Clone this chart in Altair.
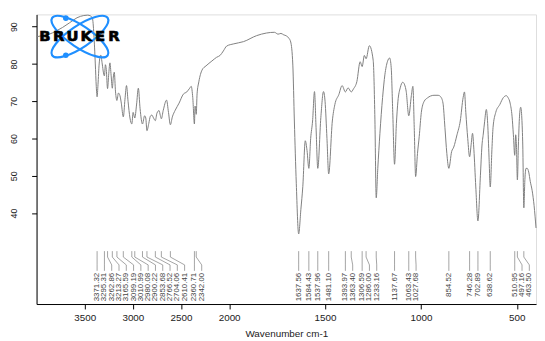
import altair as alt
import pandas as pd

# ---------------- data ----------------
wavenumber = [
    4000, 3940, 3867, 3800, 3730, 3660, 3580, 3510, 3470, 3440, 3420, 3405, 3390, 3380,
    3371.32, 3362, 3350, 3334, 3318, 3305, 3295.31, 3285, 3276, 3262.86, 3250, 3238, 3226,
    3213.27, 3203, 3193, 3180, 3165.59, 3150, 3134, 3120, 3099.19, 3082, 3066, 3050, 3030,
    3010.99, 2997, 2980.08, 2962, 2943, 2925, 2900.22, 2878, 2866, 2853.68, 2835, 2818, 2803,
    2785, 2766.52, 2750, 2728, 2715, 2704.06, 2685, 2650, 2630, 2610.41, 2590, 2560, 2520,
    2476, 2440, 2410, 2394, 2378, 2360.71, 2354, 2348, 2342.00, 2333, 2315, 2281, 2240, 2179,
    2130, 2094, 2060, 2026, 1976, 1925, 1857, 1806, 1764, 1745, 1730, 1715, 1704, 1690, 1679,
    1668, 1660, 1650, 1637.56, 1626, 1616, 1603, 1594, 1584.43, 1575, 1565, 1555, 1547,
    1537.96, 1522, 1508, 1500, 1490, 1481.10, 1462, 1449, 1428, 1411, 1393.97, 1380, 1363.40,
    1352, 1334, 1317, 1306.59, 1295, 1286.00, 1269, 1249, 1240, 1233.16, 1225, 1214, 1200,
    1188, 1175, 1163, 1155, 1147, 1137.67, 1128, 1120, 1108, 1095, 1085, 1077, 1063.43, 1050,
    1042, 1035, 1027.68, 1018, 1009, 998, 983, 966, 950, 932, 910, 897, 885, 875, 865, 854.52,
    840, 829, 812, 795, 780, 773, 766, 756, 746.28, 738, 731, 724, 714, 702.89, 690, 682, 675,
    668, 659, 652, 645, 638.62, 630, 624, 610, 589, 570, 555, 546, 535, 525, 518, 510.95, 506,
    502, 497.16, 492, 486, 480, 474, 469, 463.50, 458, 452, 446, 438, 430, 420, 410, 400,
]
transmittance = [
    87.3, 87.6, 88.0, 88.8, 89.8, 91.0, 92.4, 93.0, 93.1, 92.9, 92.3, 88.0, 80.0, 74.0,
    71.2, 74.5, 80.0, 82.4, 80.0, 77.6, 76.8, 79.8, 78.5, 73.4, 77.5, 80.3, 77.0,
    73.5, 76.5, 77.8, 72.5, 70.2, 72.2, 71.5, 69.5, 65.8, 70.5, 74.2, 70.0, 65.5,
    63.9, 67.0, 65.5, 69.0, 73.5, 68.0, 63.9, 66.1, 65.5, 62.1, 64.0, 66.0, 66.3,
    65.5, 64.8, 66.8, 67.5, 66.2, 65.3, 67.5, 70.3, 67.0, 63.7, 65.8, 67.6, 69.5,
    71.9, 72.5, 73.5, 74.0, 71.0, 63.9, 68.7, 68.0, 66.5, 72.0, 75.2, 78.4, 79.5, 80.8,
    81.8, 82.3, 83.5, 84.8, 85.4, 86.0, 87.6, 88.3, 88.5, 88.0, 88.2, 87.8, 87.6, 87.0, 85.9,
    79.7, 64.7, 48.0, 34.4, 41.0, 47.1, 59.4, 56.8, 52.0, 60.0, 64.7, 72.6, 63.0,
    52.0, 65.6, 72.6, 70.0, 60.0, 50.5, 64.7, 69.1, 71.8, 74.2, 72.5, 73.6, 72.5,
    73.3, 75.3, 80.6, 79.3, 82.3, 81.4, 84.9, 81.0, 65.0, 44.1, 52.0, 61.3, 71.0,
    77.1, 80.6, 81.6, 79.0, 67.0, 53.1, 64.0, 70.0, 73.6, 75.1, 74.4, 72.7, 66.1, 71.5,
    74.0, 63.0, 49.8, 56.0, 60.5, 67.0, 70.0, 70.9, 71.4, 71.6, 71.6, 71.2, 69.5, 63.0, 56.0, 52.0,
    56.5, 57.7, 61.0, 64.7, 71.0, 72.5, 67.0, 60.0, 55.1, 58.5, 61.4, 57.0, 47.0, 37.9, 50.0, 58.0, 61.2,
    64.5, 67.8, 64.0, 55.0, 47.0, 57.0, 63.0, 67.0, 69.1, 71.0, 71.5, 71.0, 69.5, 66.0, 61.0, 55.5, 61.0,
    58.0, 48.9, 58.0, 66.0, 68.4, 65.5, 58.0, 41.4, 49.0, 52.0, 52.0, 51.0, 48.5, 46.0, 42.0, 36.0,
]
peaks = [
    3371.32, 3295.31, 3262.86, 3213.27, 3165.59, 3099.19, 3010.99, 2980.08, 2900.22,
    2853.68, 2766.52, 2704.06, 2610.41, 2360.71, 2342.00, 1637.56, 1584.43, 1537.96,
    1481.10, 1393.97, 1363.40, 1306.59, 1286.00, 1233.16, 1137.67, 1063.43, 1027.68,
    854.52, 746.28, 702.89, 638.62, 510.95, 497.16, 463.50,
]
x_ticks = [3500, 3000, 2500, 2000, 1500, 1000, 500]
y_ticks = [40, 50, 60, 70, 80, 90]
logo_letters = ["B", "R", "U", "K", "E", "R"]

# ---------------- layout ----------------
W, H = 507, 294
BREAK = 195.5                      # pixel position of 2000 cm-1 (expanded scale below)
X_DOMAIN = [4000, 2000, 400]
X_RANGE = [0, BREAK, W]
Y_DOMAIN = [15.6, 93.3]


def to_px(w):
    if w >= 2000:
        return (4000 - w) / 2000 * BREAK
    return BREAK + (2000 - w) / 1600 * (W - BREAK)


def from_px(p):
    if p <= BREAK:
        return 4000 - p / BREAK * 2000
    return 2000 - (p - BREAK) / (W - BREAK) * 1600


def push_right(ideal, gap):
    out = []
    for p in ideal:
        out.append(p if not out else max(p, out[-1] + gap))
    return out


label_px = push_right([to_px(p) for p in peaks], 7.4)
label_wn = [from_px(p) for p in label_px]

spec_df = pd.DataFrame({"wn": wavenumber, "T": transmittance, "i": range(len(wavenumber))})
peak_df = pd.DataFrame({"wn": peaks, "lab": label_wn, "txt": [f"{p:.2f}" for p in peaks]})
one = pd.DataFrame({"k": [0]})
letters_df = pd.DataFrame({"ch": logo_letters, "j": range(len(logo_letters))})

xscale = alt.Scale(domain=X_DOMAIN, range=X_RANGE, nice=False, zero=False)
yscale = alt.Scale(domain=Y_DOMAIN, nice=False, zero=False)

FONT = "Liberation Sans"

line = alt.Chart(spec_df).mark_line(
    color="#7f7f7f", strokeWidth=1, interpolate="monotone"
).encode(
    x=alt.X("wn:Q", scale=xscale, axis=alt.Axis(
        values=x_ticks, title="Wavenumber cm-1", grid=False, tickSize=5,
        labelPadding=4, titlePadding=6, labelFontSize=10, titleFontSize=10,
        titleFontWeight="normal", labelColor="#222", titleColor="#222",
        domainColor="black", tickColor="black", labelFont=FONT, titleFont=FONT,
        format="d")),
    y=alt.Y("T:Q", scale=yscale, axis=alt.Axis(
        values=y_ticks, title=None, grid=False, tickSize=5, labelAngle=270,
        labelAlign="center", labelBaseline="bottom", labelPadding=13,
        labelFontSize=9, labelColor="#222", domainColor="black", tickColor="black",
        labelFont=FONT)),
    order=alt.Order("i:Q"),
)

Y0, Y1, Y2, Y3 = 240.3, 246.3, 254.3, 260.3
tick_a = alt.Chart(peak_df).mark_rule(color="#8c8c8c", strokeWidth=0.8).encode(
    x=alt.X("wn:Q", scale=xscale), y=alt.value(Y0), y2=alt.value(Y1))
tick_b = alt.Chart(peak_df).mark_rule(color="#8c8c8c", strokeWidth=0.8).encode(
    x=alt.X("wn:Q", scale=xscale), x2="lab:Q", y=alt.value(Y1), y2=alt.value(Y2))
tick_c = alt.Chart(peak_df).mark_rule(color="#8c8c8c", strokeWidth=0.8).encode(
    x=alt.X("lab:Q", scale=xscale), y=alt.value(Y2), y2=alt.value(Y3))
labels = alt.Chart(peak_df).mark_text(
    angle=270, align="right", baseline="middle", fontSize=8, font=FONT, color="#444"
).encode(x=alt.X("lab:Q", scale=xscale), y=alt.value(Y3 + 2), text="txt:N")

# ---------------- Bruker logo ----------------
K = 0.323
C1 = 0.5523
ELL = (f"M 1 0 C 1 {C1*K:.4f} {C1:.4f} {K} 0 {K} C {-C1:.4f} {K} -1 {C1*K:.4f} -1 0 "
       f"C -1 {-C1*K:.4f} {-C1:.4f} {-K} 0 {-K} C {C1:.4f} {-K} 1 {-C1*K:.4f} 1 0 Z")
LOGO_BLUE = "#1f8fff"
ell1 = alt.Chart(one).mark_point(shape=ELL, size=4624, angle=34, filled=False,
                                 stroke=LOGO_BLUE, strokeWidth=2.2, opacity=1).encode(
    x=alt.value(44), y=alt.value(22.5))
ell2 = alt.Chart(one).mark_point(shape=ELL, size=4624, angle=326, filled=False,
                                 stroke=LOGO_BLUE, strokeWidth=2.2, opacity=1).encode(
    x=alt.value(44), y=alt.value(22.5))
dot1 = alt.Chart(one).mark_point(shape="circle", size=32, filled=True,
                                 color=LOGO_BLUE, opacity=1).encode(
    x=alt.value(29.7), y=alt.value(3.8))
dot2 = alt.Chart(one).mark_point(shape="circle", size=32, filled=True,
                                 color=LOGO_BLUE, opacity=1).encode(
    x=alt.value(29.7), y=alt.value(41.4))
brand = alt.Chart(letters_df).transform_calculate(
    px="8.5 + datum.j * 14"
).mark_text(font="DejaVu Sans", fontWeight="bold", fontSize=15, color="black",
            stroke="black", strokeWidth=0.7, align="center", baseline="middle").encode(
    x=alt.X("px:Q", scale=None), y=alt.value(22.5), text="ch:N")

chart = alt.layer(line, tick_a, tick_b, tick_c, labels, ell1, ell2, dot1, dot2, brand).properties(
    width=W, height=H,
    autosize=alt.AutoSizeParams(type="none"),
    padding={"left": 29, "top": 4, "right": 1, "bottom": 33},
).configure_view(stroke="black", strokeWidth=1).configure(background="white")

chart.save("out.html", embed_options={"renderer": "svg", "actions": False})
